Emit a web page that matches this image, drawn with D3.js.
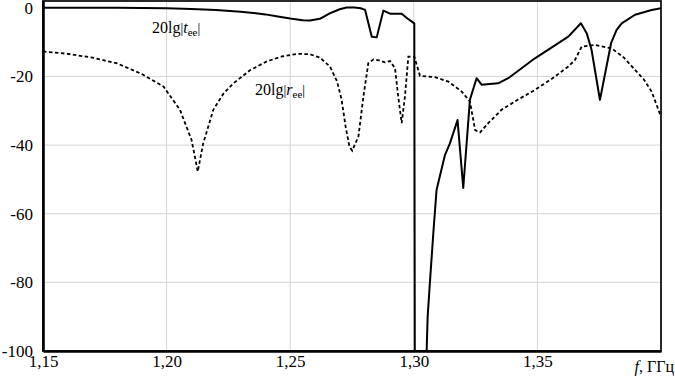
<!DOCTYPE html>
<html>
<head>
<meta charset="utf-8">
<script src="https://cdn.jsdelivr.net/npm/d3@7"></script>
<style>
  body { margin: 0; background: #fff; }
</style>
</head>
<body>
<div id="chart"></div>
<script>
// Data: frequency (GHz) and level (dB)
const freqT = [1.150, 1.180, 1.200, 1.210, 1.220, 1.230, 1.240, 1.245, 1.250, 1.255, 1.258, 1.262, 1.266, 1.270,
  1.2728, 1.276, 1.2785, 1.2803, 1.2830, 1.2850, 1.2877, 1.2904, 1.2951, 1.2978, 1.3002, 1.3004,
  1.3052, 1.3056, 1.3065, 1.3079, 1.3092, 1.3126, 1.3146, 1.3177, 1.3200, 1.3227, 1.3254, 1.3274,
  1.3341, 1.3382, 1.3490, 1.3625, 1.3676, 1.3700, 1.3719, 1.3753, 1.3798, 1.3820, 1.3841, 1.3895, 1.3962, 1.4000];
const dbT = [0, 0, -0.1, -0.3, -0.6, -1.1, -1.9, -2.5, -3.1, -3.6, -3.7, -3.2, -1.6, -0.4,
  0.1, 0.1, -0.1, -0.6, -8.4, -8.6, -0.8, -1.7, -1.7, -3.3, -4.5, -100,
  -100, -90, -80.2, -65.6, -53.1, -42.9, -39.5, -32.7, -52.5, -26.8, -20.5, -22.4,
  -22, -20.5, -14.7, -8.4, -4.5, -7.5, -12.2, -26.8, -10.3, -6.5, -4.5, -2, -0.6, -0.1];

const freqR = [1.150, 1.160, 1.170, 1.180, 1.190, 1.1987, 1.2054, 1.2101, 1.2126, 1.2148, 1.2189, 1.2230,
  1.2270, 1.2337, 1.2405, 1.2470, 1.2530, 1.2580, 1.2620, 1.2661, 1.2690, 1.2708, 1.2725, 1.2740, 1.2751,
  1.2776, 1.2796, 1.2816, 1.2837, 1.2860, 1.2883, 1.2904, 1.2924, 1.2937, 1.2951, 1.2964, 1.2978, 1.3002,
  1.3025, 1.3086, 1.3140, 1.3194, 1.3227, 1.3248, 1.3268, 1.3301, 1.3355, 1.3420, 1.3490, 1.3560, 1.3625,
  1.3652, 1.3679, 1.3733, 1.3800, 1.3850, 1.3895, 1.3930, 1.3962, 1.4000];
const dbR = [-12.7, -13.4, -14.5, -16.2, -19.3, -22.9, -29.7, -38.5, -47.7, -39.5, -29.7, -25,
  -22, -18.2, -15.6, -14.1, -13.4, -13.5, -14.5, -17.1, -21.5, -26.8, -35, -40.5, -41.6,
  -37.5, -25.9, -16.1, -15, -15.3, -15.9, -15.5, -17.6, -25.9, -33.6, -25.9, -14.2, -14.2,
  -19.8, -20.2, -21.5, -24.4, -27.3, -35.6, -36.3, -33.6, -29.7, -26.8, -23.9, -20.6, -17.1,
  -15.2, -11.3, -10.8, -11.8, -14.5, -18.1, -20.8, -24.4, -31.7];

const xTicks = [1.15, 1.20, 1.25, 1.30, 1.35];
const xTickLabels = ["1,15", "1,20", "1,25", "1,30", "1,35"];
const yTicks = [0, -20, -40, -60, -80, -100];

const FONT = "'Liberation Serif', 'DejaVu Serif', Times, serif";

// Layout
const W = 675, H = 380;
const plot = { left: 43, right: 661, top: 1, bottom: 351 };

const svg = d3.select("#chart").append("svg")
  .attr("width", W)
  .attr("height", H)
  .style("font-family", FONT);

const x = d3.scaleLinear().domain([1.15, 1.40]).range([plot.left, plot.right]);
const y = d3.scaleLinear().domain([-100, 2]).range([plot.bottom, plot.top]);

// Grid
svg.append("g").selectAll("line")
  .data(xTicks.slice(1))
  .join("line")
  .attr("x1", d => x(d)).attr("x2", d => x(d))
  .attr("y1", plot.top).attr("y2", plot.bottom)
  .attr("stroke", "#d6d6d6").attr("stroke-width", 1);

svg.append("g").selectAll("line")
  .data(yTicks.slice(1, -1))
  .join("line")
  .attr("x1", plot.left).attr("x2", plot.right)
  .attr("y1", d => y(d)).attr("y2", d => y(d))
  .attr("stroke", "#d6d6d6").attr("stroke-width", 1);

// Curves
const lineGen = d3.line()
  .x(d => x(d[0]))
  .y(d => y(d[1]));

svg.append("path")
  .datum(freqR.map((f, i) => [f, dbR[i]]))
  .attr("fill", "none")
  .attr("stroke", "#000")
  .attr("stroke-width", 1.8)
  .attr("stroke-dasharray", "3.5,2.5")
  .attr("d", lineGen);

svg.append("path")
  .datum(freqT.map((f, i) => [f, dbT[i]]))
  .attr("fill", "none")
  .attr("stroke", "#000")
  .attr("stroke-width", 2)
  .attr("stroke-linejoin", "round")
  .attr("d", lineGen);

// Frame
svg.append("rect")
  .attr("x", plot.left).attr("y", plot.top)
  .attr("width", plot.right - plot.left).attr("height", plot.bottom - plot.top)
  .attr("fill", "none")
  .attr("stroke", "#111")
  .attr("stroke-width", 1.8);

// Axes
const yAxis = svg.append("g")
  .attr("transform", `translate(${plot.left},0)`)
  .call(d3.axisLeft(y).tickValues(yTicks).tickSize(0).tickPadding(10).tickFormat(d => d))
  .attr("font-family", null).attr("font-size", 17);
yAxis.select(".domain").attr("stroke-width", 2.6);

const xAxis = svg.append("g")
  .attr("transform", `translate(0,${plot.bottom})`)
  .call(d3.axisBottom(x).tickValues(xTicks).tickSize(0).tickPadding(4)
    .tickFormat((d, i) => xTickLabels[i]))
  .attr("font-family", null).attr("font-size", 17);
xAxis.select(".domain").attr("stroke-width", 2.4);

// Axis title
const xt = svg.append("text")
  .attr("x", 674).attr("y", 372)
  .attr("text-anchor", "end")
  .attr("font-size", 16);
xt.append("tspan").attr("font-style", "italic").text("f");
xt.append("tspan").text(", ГГц");

// Curve labels
function curveLabel(px, py, sym) {
  const t = svg.append("text").attr("x", px).attr("y", py).attr("font-size", 16);
  t.append("tspan").text("20lg");
  t.append("tspan").attr("font-size", 14).text("|");
  t.append("tspan").attr("font-style", "italic").text(sym);
  t.append("tspan").attr("font-size", 11).attr("dy", 3).text("ee");
  t.append("tspan").attr("font-size", 14).attr("dy", -3).text("|");
}
curveLabel(152, 33, "t");
curveLabel(255, 95, "r");
</script>
</body>
</html>
